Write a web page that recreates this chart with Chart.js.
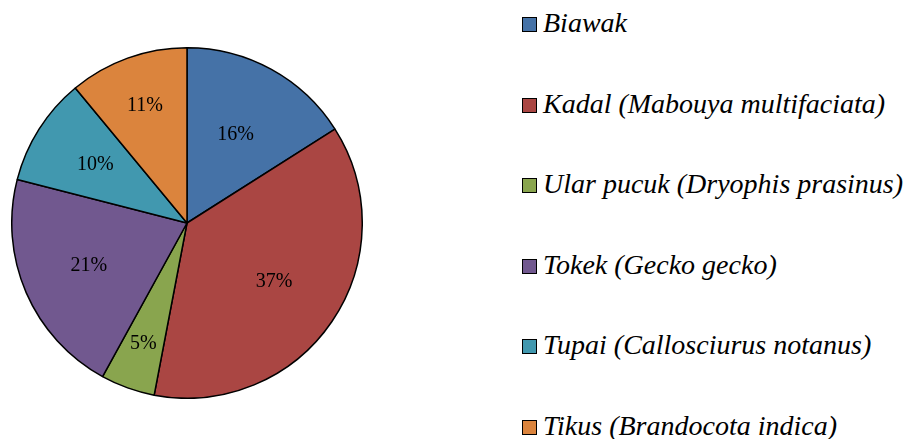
<!DOCTYPE html>
<html>
<head>
<meta charset="utf-8">
<script src="https://cdn.jsdelivr.net/npm/chart.js@4/dist/chart.umd.min.js"></script>
<style>
  body { margin: 0; background: #fff; }
  #wrap { position: relative; width: 904px; height: 439px; overflow: hidden; }
  #pie { position: absolute; left: 11px; top: 47px; width: 352px; height: 352px; }
  #legend { position: absolute; left: 522px; top: 0; }
  .item { position: absolute; left: 0; white-space: nowrap; font-family: "Liberation Serif", "Times New Roman", serif; font-style: italic; font-size: 28px; line-height: 28px; color: #000; }
  .box { display: inline-block; width: 13px; height: 13px; border: 1px solid #000; margin-right: 6px; vertical-align: baseline; }
</style>
</head>
<body>
<div id="wrap">
  <div id="pie"><canvas id="mychart-pie"></canvas></div>
  <div id="legend"></div>
</div>
<script>
// dati del grafico
var categorie = ['Biawak', 'Kadal (Mabouya multifaciata)', 'Ular pucuk (Dryophis prasinus)', 'Tokek (Gecko gecko)', 'Tupai (Callosciurus notanus)', 'Tikus (Brandocota indica)'];
var percentuali = [16, 37, 5, 21, 10, 11];
var colori = ['#4572A7', '#AA4643', '#89A54E', '#71588F', '#4198AF', '#DB843D'];
// distanza delle etichette dal centro (frazione del raggio)
var posEtichette = [0.575, 0.6, 0.735, 0.61, 0.62, 0.71];

// plugin per le percentuali dentro le fette
var etichette = {
    id: 'etichette',
    afterDatasetsDraw: function (chart) {
        var ctx = chart.ctx;
        var meta = chart.getDatasetMeta(0);
        ctx.save();
        ctx.font = '20px "Liberation Serif", "Times New Roman", serif';
        ctx.fillStyle = '#000';
        ctx.textAlign = 'center';
        ctx.textBaseline = 'middle';
        meta.data.forEach(function (arc, i) {
            var p = arc.getProps(['x', 'y', 'startAngle', 'endAngle', 'outerRadius'], true);
            var ang = (p.startAngle + p.endAngle) / 2;
            var r = p.outerRadius * posEtichette[i];
            ctx.fillText(percentuali[i] + '%', p.x + Math.cos(ang) * r, p.y + Math.sin(ang) * r);
        });
        ctx.restore();
    }
};

var ctx = document.getElementById('mychart-pie').getContext('2d');
var chart = new Chart(ctx, {
    type: 'pie',
    data: {
        labels: categorie,
        datasets: [{
            data: percentuali,
            backgroundColor: colori,
            borderColor: '#000',
            borderWidth: 1.5
        }]
    },
    options: {
        responsive: true,
        maintainAspectRatio: false,
        animation: false,
        layout: { padding: 0 },
        plugins: {
            legend: { display: false },
            tooltip: { enabled: false }
        }
    },
    plugins: [etichette]
});

// legenda a destra
var legenda = document.getElementById('legend');
for (var i = 0; i < categorie.length; i++) {
    var div = document.createElement('div');
    div.className = 'item';
    div.style.top = (9.3 + i * 80.5) + 'px';
    div.innerHTML = '<span class="box" style="background:' + colori[i] + '"></span>' + categorie[i];
    legenda.appendChild(div);
}
</script>
</body>
</html>
